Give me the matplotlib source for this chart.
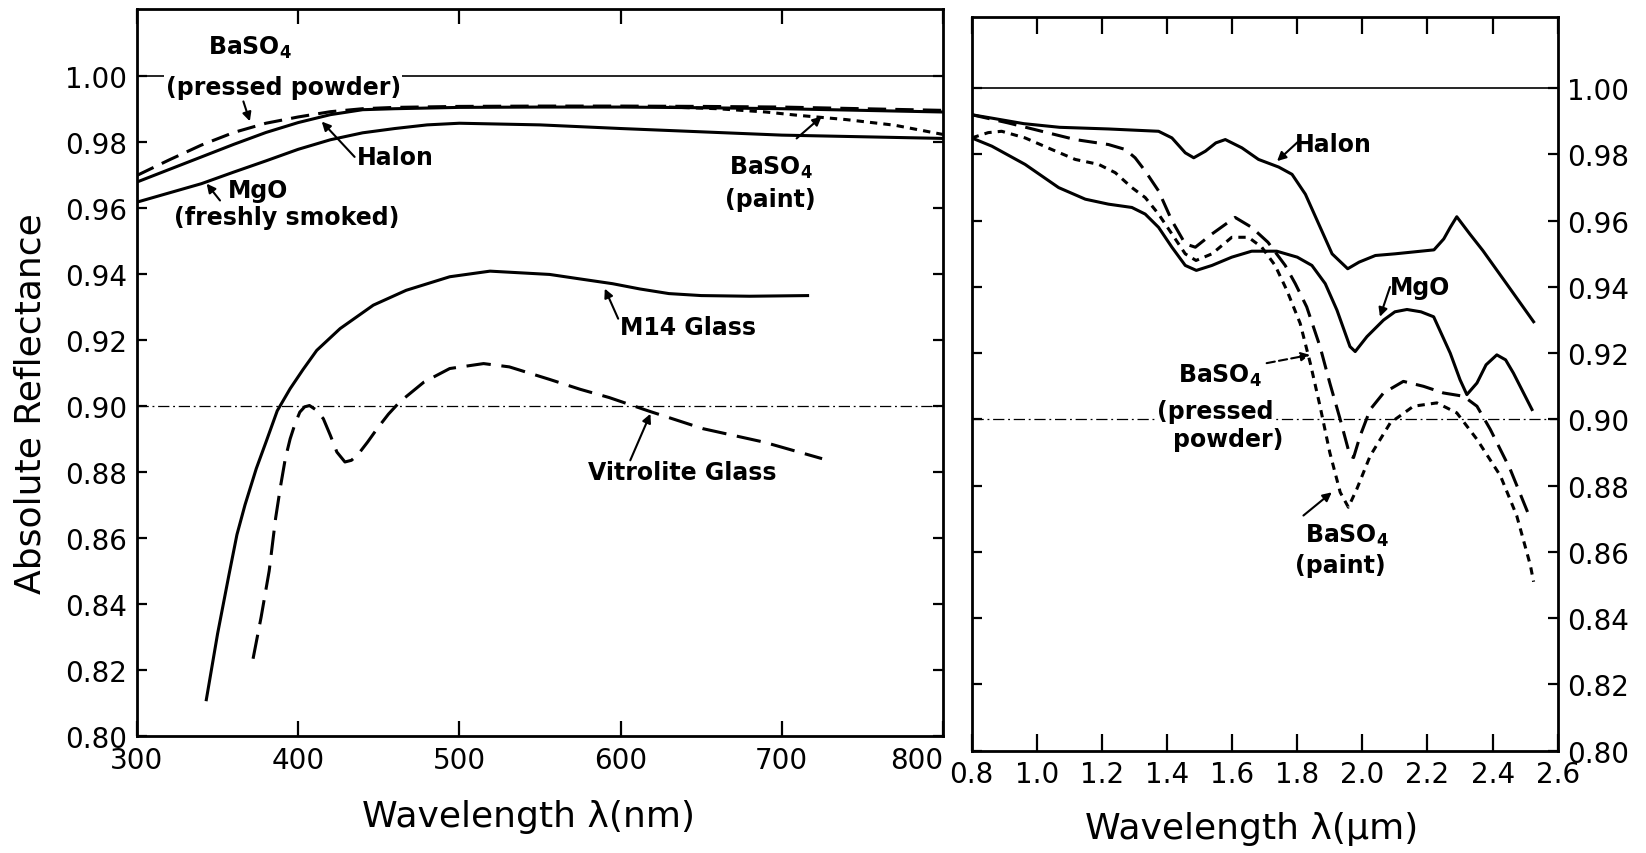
import numpy as np
import matplotlib
matplotlib.use("Agg")
import matplotlib.pyplot as plt

# ---- data ----
# left panel: visible range (nm)
halon_nm = [300, 320, 340, 360, 380, 400, 420, 440, 460, 500, 550, 600, 650, 700, 750, 800]
halon_vis = [0.9678, 0.9716, 0.9754, 0.9792, 0.9828, 0.9858, 0.9882, 0.9897, 0.9900, 0.9904,
             0.9905, 0.9905, 0.9903, 0.9900, 0.9895, 0.9890]

pressed_nm = [300, 320, 340, 360, 380, 400, 420, 440, 460, 500, 550, 600, 650, 700, 750, 800]
pressed_vis = [0.9698, 0.9745, 0.9790, 0.9828, 0.9856, 0.9875, 0.9891, 0.9900, 0.9904, 0.9907,
               0.9908, 0.9908, 0.9907, 0.9905, 0.9900, 0.9895]

paint_nm = [630, 660, 690, 710, 740, 770, 800]
paint_vis = [0.9905, 0.9900, 0.9890, 0.9880, 0.9867, 0.9850, 0.9822]

mgo_nm = [300, 320, 340, 360, 380, 400, 420, 440, 460, 480, 500, 550, 600, 650, 700, 750, 800]
mgo_vis = [0.9617, 0.9645, 0.9673, 0.9708, 0.9742, 0.9777, 0.9806, 0.9827, 0.9840, 0.9851,
           0.9856, 0.9851, 0.9840, 0.9830, 0.9820, 0.9815, 0.9810]

m14_nm = [343, 350, 357, 362, 367, 374, 380, 387, 395, 403, 411.5, 426, 446.6, 467, 494, 519,
          556, 574, 595, 612, 630, 650, 680, 716]
m14_vis = [0.811, 0.831, 0.8487, 0.861, 0.870, 0.881, 0.889, 0.8985, 0.9052, 0.911, 0.9168,
           0.9234, 0.9305, 0.935, 0.9391, 0.9408, 0.9398, 0.9385, 0.937, 0.9354, 0.934, 0.9334,
           0.9332, 0.9334]

vitro_nm = [372, 377, 382, 386, 389, 392, 395, 398, 401, 404, 407, 411, 415.6, 420, 424, 429,
            433, 437, 443, 449, 456, 463, 478, 494, 515, 531, 556, 575, 593, 617, 651, 689, 725]
vitro_vis = [0.8234, 0.836, 0.850, 0.866, 0.8755, 0.884, 0.890, 0.8945, 0.8981, 0.8997, 0.9001,
             0.8988, 0.8961, 0.891, 0.886, 0.883, 0.8835, 0.8852, 0.889, 0.8931, 0.8975, 0.9012,
             0.9072, 0.9113, 0.9128, 0.9118, 0.908, 0.905, 0.9025, 0.8985, 0.8931, 0.889, 0.884]

# right panel: near infrared (um)
halon_um = [0.80, 0.86, 0.96, 1.07, 1.22, 1.374, 1.415, 1.456, 1.482, 1.518, 1.55, 1.579, 1.63,
            1.681, 1.743, 1.784, 1.825, 1.866, 1.907, 1.955, 1.99, 2.04, 2.10, 2.22, 2.25, 2.27,
            2.29, 2.33, 2.37, 2.45, 2.526]
halon_ir = [0.9920, 0.9910, 0.9893, 0.9882, 0.9877, 0.9870, 0.9850, 0.9805, 0.9790, 0.9810,
            0.9835, 0.9845, 0.9820, 0.9785, 0.9762, 0.9740, 0.9680, 0.9590, 0.9500, 0.9455,
            0.9475, 0.9495, 0.9500, 0.9512, 0.9545, 0.9580, 0.9612, 0.9560, 0.9510, 0.9400,
            0.9295]

mgo_um = [0.80, 0.862, 0.964, 1.067, 1.149, 1.22, 1.292, 1.333, 1.374, 1.415, 1.456, 1.49,
          1.538, 1.599, 1.66, 1.737, 1.80, 1.845, 1.886, 1.922, 1.962, 1.978, 2.014, 2.065, 2.10,
          2.137, 2.18, 2.219, 2.27, 2.30, 2.321, 2.352, 2.38, 2.413, 2.44, 2.464, 2.521]
mgo_ir = [0.9850, 0.9825, 0.9770, 0.9700, 0.9665, 0.9650, 0.9640, 0.9620, 0.9580, 0.9520,
          0.9465, 0.9450, 0.9465, 0.9490, 0.9508, 0.9508, 0.9490, 0.9465, 0.9410, 0.9330,
          0.9220, 0.9205, 0.9250, 0.9300, 0.9325, 0.9332, 0.9325, 0.9310, 0.9200, 0.9120,
          0.9075, 0.9110, 0.9165, 0.9195, 0.9180, 0.9140, 0.9030]

pressed_um = [0.80, 0.913, 1.015, 1.118, 1.22, 1.272, 1.302, 1.333, 1.374, 1.415, 1.456, 1.487,
              1.538, 1.609, 1.66, 1.71, 1.763, 1.794, 1.829, 1.87, 1.90, 1.932, 1.962, 1.973,
              1.993, 2.024, 2.065, 2.126, 2.188, 2.249, 2.311, 2.352, 2.393, 2.454, 2.516]
pressed_ir = [0.9920, 0.9895, 0.9870, 0.9845, 0.9830, 0.9815, 0.9790, 0.9750, 0.9690, 0.9600,
              0.9530, 0.9520, 0.9560, 0.9610, 0.9580, 0.9535, 0.9465, 0.9410, 0.9340, 0.9220,
              0.9110, 0.9000, 0.8890, 0.8885, 0.8950, 0.9030, 0.9080, 0.9115, 0.9100, 0.9080,
              0.9070, 0.9040, 0.8970, 0.8850, 0.8700]

paint_um = [0.80, 0.851, 0.892, 0.964, 1.046, 1.118, 1.19, 1.241, 1.292, 1.333, 1.374, 1.415,
            1.456, 1.489, 1.538, 1.599, 1.65, 1.691, 1.732, 1.768, 1.809, 1.84, 1.87, 1.90,
            1.932, 1.957, 1.983, 2.024, 2.086, 2.157, 2.229, 2.29, 2.352, 2.424, 2.474, 2.516,
            2.526]
paint_ir = [0.9850, 0.9866, 0.9870, 0.9850, 0.9815, 0.9785, 0.9770, 0.9745, 0.9700, 0.9670,
            0.9620, 0.9560, 0.9500, 0.9480, 0.9500, 0.9550, 0.9550, 0.9520, 0.9465, 0.9390,
            0.9290, 0.9170, 0.9040, 0.8900, 0.8780, 0.8735, 0.8790, 0.8890, 0.8990, 0.9040,
            0.9050, 0.9020, 0.8940, 0.8830, 0.8710, 0.8560, 0.8510]

refl_ticks = np.arange(0.80, 1.001, 0.02)
nm_ticks = [300, 400, 500, 600, 700, 800]
um_ticks = np.arange(0.8, 2.61, 0.2)

LONG = (6, 3)
VLONG = (8, 3.5)
SHORT = (2.4, 2)
LW = 2.2
BASO4 = r'BaSO$_\mathbf{4}$'

plt.rcParams['font.family'] = ['DejaVu Sans']
plt.rcParams['mathtext.default'] = 'bf'

fig = plt.figure(figsize=(16.46, 8.54), dpi=100)
ax1 = fig.add_axes([0.08323, 0.13700, 0.48967, 0.85129])
ax2 = fig.add_axes([0.59034, 0.11979, 0.35601, 0.85913])

for ax in (ax1, ax2):
    for sp in ax.spines.values():
        sp.set_linewidth(2)
    ax.axhline(1.00, color='black', lw=1.2, zorder=1)
    ax.axhline(0.90, color='black', lw=0.9, dashes=(9, 3, 1.5, 3), zorder=1)

# ---- left panel ----
ax1.plot(halon_nm, halon_vis, color='black', lw=LW)
ax1.plot(pressed_nm, pressed_vis, color='black', lw=LW, dashes=LONG)
ax1.plot(paint_nm, paint_vis, color='black', lw=LW, dashes=SHORT)
ax1.plot(mgo_nm, mgo_vis, color='black', lw=LW)
ax1.plot(m14_nm, m14_vis, color='black', lw=LW)
ax1.plot(vitro_nm, vitro_vis, color='black', lw=LW, dashes=VLONG)

ax1.set_xlim(300, 800)
ax1.set_ylim(0.80, 1.0202)
ax1.set_xticks(nm_ticks)
ax1.set_xticklabels([str(t) for t in nm_ticks])
ax1.set_yticks(refl_ticks)
ax1.set_yticklabels(['%.2f' % t for t in refl_ticks])
ax1.tick_params(axis='both', direction='in', width=1.6, top=True, right=True,
                labelsize=20, pad=7)
ax1.tick_params(axis='x', length=11)
ax1.tick_params(axis='y', length=7)
ax1.get_xticklabels()[-1].set_ha('right')

# ---- right panel ----
ax2.plot(halon_um, halon_ir, color='black', lw=LW)
ax2.plot(mgo_um, mgo_ir, color='black', lw=LW)
ax2.plot(pressed_um, pressed_ir, color='black', lw=LW, dashes=LONG)
ax2.plot(paint_um, paint_ir, color='black', lw=LW, dashes=SHORT)

ax2.set_xlim(0.8, 2.6)
ax2.set_ylim(0.80, 1.0215)
ax2.set_xticks(um_ticks)
ax2.set_xticklabels(['%.1f' % t for t in um_ticks])
ax2.set_yticks(refl_ticks)
ax2.set_yticklabels(['%.2f' % t for t in refl_ticks])
ax2.yaxis.tick_right()
ax2.tick_params(axis='both', direction='in', width=1.6, top=True, left=True,
                labelsize=20, pad=7)
ax2.tick_params(axis='x', length=12)
ax2.tick_params(axis='y', length=7)

# ---- labels ----
bold = dict(fontsize=17, fontweight='bold', ha='center', va='center')
arrow = dict(arrowstyle='-|>', color='black', lw=1.5, mutation_scale=13, shrinkA=0, shrinkB=0)
white = dict(facecolor='white', edgecolor='none', pad=1)

ax1.text(370, 1.0086, BASO4, **bold)
ax1.text(390.8, 0.9965, '(pressed powder)', bbox=white, **bold)
ax1.annotate('', xy=(370, 0.9862), xytext=(366, 0.9922), arrowprops=arrow)
ax1.text(460, 0.9754, 'Halon', **bold)
ax1.annotate('', xy=(414.6, 0.9861), xytext=(435, 0.9754), arrowprops=arrow)
ax1.text(375, 0.9653, 'MgO', **bold)
ax1.text(393, 0.9573, '(freshly smoked)', **bold)
ax1.annotate('', xy=(343.2, 0.9673), xytext=(351.5, 0.9622), arrowprops=arrow)
ax1.text(693, 0.9724, BASO4, **bold)
ax1.text(693, 0.9628, '(paint)', **bold)
ax1.annotate('', xy=(724.7, 0.9876), xytext=(709.2, 0.9810), arrowprops=arrow)
ax1.text(642, 0.9239, 'M14 Glass', **bold)
ax1.annotate('', xy=(590.2, 0.9355), xytext=(598.5, 0.9264), arrowprops=arrow)
ax1.text(638, 0.8800, 'Vitrolite Glass', **bold)
ax1.annotate('', xy=(618.5, 0.8976), xytext=(606, 0.8835), arrowprops=arrow)

ax2.text(1.912, 0.9832, 'Halon', **bold)
ax2.annotate('', xy=(1.738, 0.9780), xytext=(1.801, 0.9837), arrowprops=arrow)
ax2.text(2.177, 0.9400, 'MgO', **bold)
ax2.annotate('', xy=(2.054, 0.9310), xytext=(2.085, 0.9400), arrowprops=arrow)
ax2.text(1.563, 0.9135, BASO4, **bold)
ax2.text(1.547, 0.9025, '(pressed', bbox=white, **bold)
ax2.text(1.588, 0.8940, 'powder)', **bold)
ax2.annotate('', xy=(1.839, 0.9195), xytext=(1.706, 0.9170),
             arrowprops=dict(arrow, linestyle=(0, (4, 2))))
ax2.text(1.952, 0.8650, BASO4, **bold)
ax2.text(1.931, 0.8560, '(paint)', **bold)
ax2.annotate('', xy=(1.906, 0.8780), xytext=(1.819, 0.8710), arrowprops=arrow)

fig.text(0.0188, 0.527, 'Absolute Reflectance', rotation=90, fontsize=26,
         ha='center', va='center')
fig.text(0.3208, 0.0433, 'Wavelength λ(nm)', fontsize=26, ha='center', va='center')
fig.text(0.7606, 0.0293, 'Wavelength λ(μm)', fontsize=26, ha='center', va='center')

fig.savefig('out.png', dpi=100)
